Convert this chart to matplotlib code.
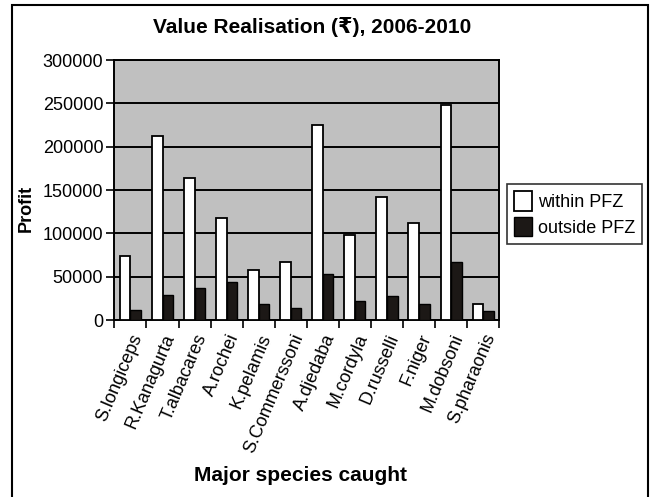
import numpy as np
import matplotlib
matplotlib.use("Agg")
import matplotlib.pyplot as plt
from matplotlib.patches import Rectangle


plt.rcParams['font.family'] = ['Liberation Sans', 'DejaVu Sans']

species = ["S.longiceps", "R.Kanagurta", "T.albacares", "A.rochei", "K.pelamis",
           "S.Commerssoni", "A.djedaba", "M.cordyla", "D.russelli", "F.niger",
           "M.dobsoni", "S.pharaonis"]
within_pfz = [74500, 212000, 164500, 117500, 57500, 67500, 225000, 98500, 141500, 111500, 248000, 18500]
outside_pfz = [12000, 29500, 37000, 44500, 18500, 14000, 53000, 21500, 27500, 18500, 67500, 10500]
y_ticks = [0, 50000, 100000, 150000, 200000, 250000, 300000]

fig = plt.figure(figsize=(6.5, 4.97), dpi=100)
ax = fig.add_axes([0.176, 0.356, 0.592, 0.523])

x = np.arange(len(species))
bar_w = 0.33
ax.bar(x - bar_w / 2, within_pfz, bar_w, color="white", edgecolor="black",
       linewidth=1.3, label="within PFZ", zorder=3)
ax.bar(x + bar_w / 2, outside_pfz, bar_w, color="#1c1816", edgecolor="black",
       linewidth=1.0, label="outside PFZ", zorder=3)

ax.set_facecolor("#c0c0c0")
ax.set_xlim(-0.5, len(species) - 0.5)
ax.set_ylim(0, 300000)
ax.set_yticks(y_ticks)
ax.set_yticklabels([str(v) for v in y_ticks], fontsize=13)
ax.yaxis.grid(True, color="black", linewidth=1.4, zorder=1)
ax.set_axisbelow(True)

# ticks at category boundaries, labels at centres
ax.set_xticks(np.arange(len(species) + 1) - 0.5)
ax.set_xticklabels([])
ax.set_xticks(x, minor=True)
ax.set_xticklabels(species, minor=True, rotation=67, ha="right",
                   rotation_mode="anchor", fontsize=13)
ax.tick_params(axis="x", which="major", direction="out", length=6, width=1.2)
ax.tick_params(axis="x", which="minor", length=0, pad=8)
ax.tick_params(axis="y", direction="out", length=6, width=1.2, pad=2)

for s in ax.spines.values():
    s.set_linewidth(1.4)
    s.set_color("black")

fig.text(0.48, 0.945, "Value Realisation (\u20b9), 2006-2010", ha="center", va="center",
         fontsize=15, fontweight="bold")
fig.text(0.462, 0.044, "Major species caught", ha="center", va="center",
         fontsize=15, fontweight="bold")
fig.text(0.041, 0.58, "Profit", ha="center", va="center", rotation=90,
         fontsize=13, fontweight="bold")

leg = ax.legend(loc="center left", bbox_to_anchor=(1.02, 0.408), frameon=True,
                fancybox=False, edgecolor="black", fontsize=13,
                handlelength=1.0, handleheight=1.3, handletextpad=0.3,
                borderpad=0.4, labelspacing=0.3, borderaxespad=0)
leg.get_frame().set_linewidth(1.2)

# outer frame of the picture
fig.patches.append(Rectangle((12 / 650, -0.05), (648 - 12) / 650, 1.05 - 5 / 497,
                             transform=fig.transFigure, fill=False,
                             edgecolor="black", linewidth=1.5))

fig.savefig("out.png", dpi=100)
